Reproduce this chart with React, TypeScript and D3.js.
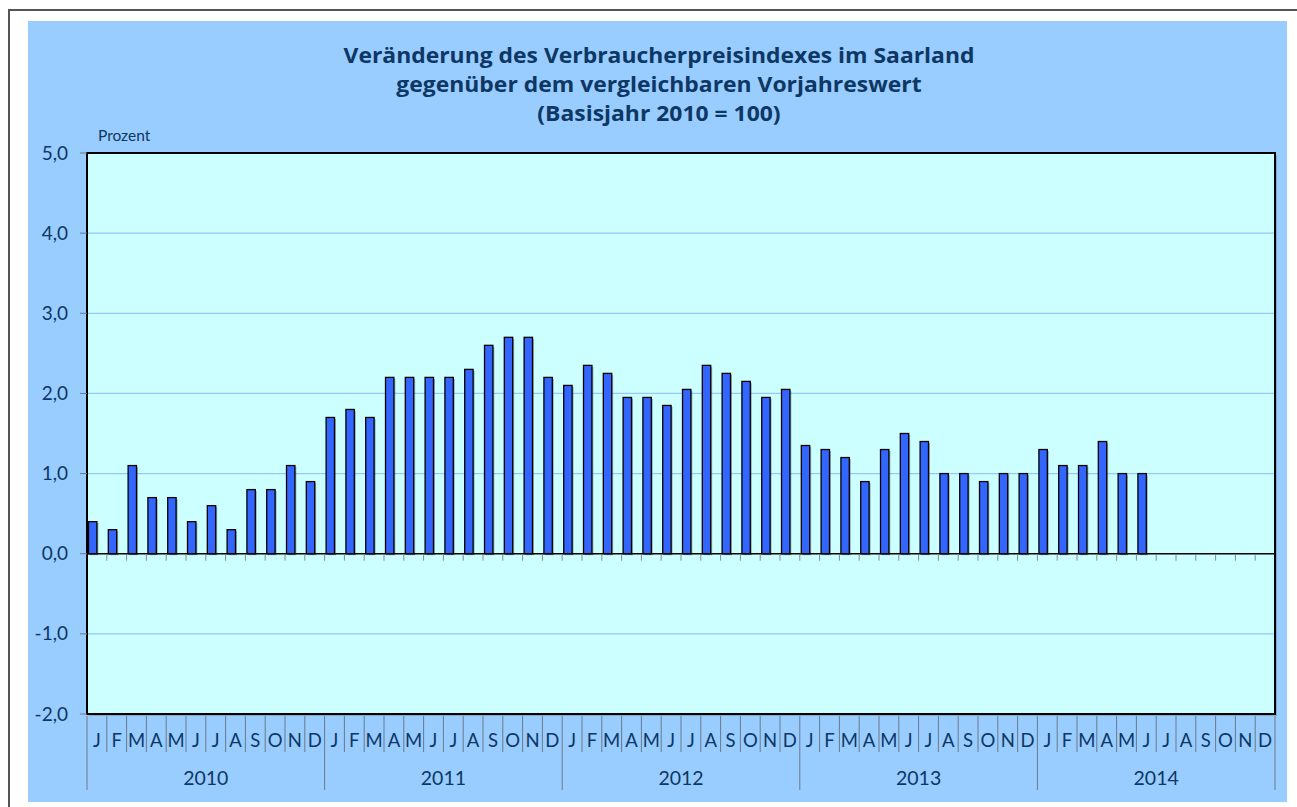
import React, { useRef, useEffect } from "react";
import * as d3 from "d3";

// Monatswerte (Veränderung gegenüber Vorjahresmonat in %)
const years = ["2010", "2011", "2012", "2013", "2014"];
const monthLetters = ["J", "F", "M", "A", "M", "J", "J", "A", "S", "O", "N", "D"];
const values2010 = [0.4, 0.3, 1.1, 0.7, 0.7, 0.4, 0.6, 0.3, 0.8, 0.8, 1.1, 0.9];
const values2011 = [1.7, 1.8, 1.7, 2.2, 2.2, 2.2, 2.2, 2.3, 2.6, 2.7, 2.7, 2.2];
const values2012 = [2.1, 2.35, 2.25, 1.95, 1.95, 1.85, 2.05, 2.35, 2.25, 2.15, 1.95, 2.05];
const values2013 = [1.35, 1.3, 1.2, 0.9, 1.3, 1.5, 1.4, 1.0, 1.0, 0.9, 1.0, 1.0];
const values2014 = [1.3, 1.1, 1.1, 1.4, 1.0, 1.0, null, null, null, null, null, null];
const yTicks = [-2, -1, 0, 1, 2, 3, 4, 5];
const titleLines = [
  "Veränderung des Verbraucherpreisindexes im Saarland",
  "gegenüber dem vergleichbaren Vorjahreswert",
  "(Basisjahr 2010 = 100)",
];

interface Point {
  idx: number;
  year: string;
  month: string;
  value: number | null;
}

const allValues = [values2010, values2011, values2012, values2013, values2014];

const App: React.FC = () => {
  const svgRef = useRef<SVGSVGElement>(null);

  useEffect(() => {
    if (!svgRef.current) return;
    const svg = d3.select(svgRef.current);
    svg.selectAll("*").remove();

    const width = 1297;
    const height = 807;
    const plot = { left: 87, right: 1275, top: 153, bottom: 714 };
    const font = "Lato, 'Open Sans', sans-serif";
    const textColor = "#0d3764";

    const data: Point[] = [];
    years.forEach((y, yi) =>
      monthLetters.forEach((m, mi) =>
        data.push({ idx: yi * 12 + mi, year: y, month: m, value: allValues[yi][mi] })
      )
    );

    svg.attr("width", width).attr("height", height);

    // outer frame
    svg
      .append("rect")
      .attr("x", 9)
      .attr("y", 10)
      .attr("width", 1300)
      .attr("height", 810)
      .attr("fill", "#ffffff")
      .attr("stroke", "#555555")
      .attr("stroke-width", 2);

    // chart background
    svg
      .append("rect")
      .attr("x", 28)
      .attr("y", 21)
      .attr("width", 1259)
      .attr("height", 781)
      .attr("fill", "#99ccff");

    // Title (slightly widened glyphs to match the original face)
    titleLines.forEach((t, i) => {
      const line = svg
        .append("text")
        .attr("x", 659)
        .attr("y", 63 + i * 29)
        .attr("text-anchor", "middle")
        .attr("font-family", "'Open Sans', Lato, sans-serif")
        .attr("font-weight", "bold")
        .attr("font-size", 21)
        .attr("fill", textColor)
        .text(t);
      const len = (line.node() as SVGTextElement).getComputedTextLength();
      if (len > 0) {
        line.attr("textLength", len * 1.09).attr("lengthAdjust", "spacingAndGlyphs");
      }
    });

    // Scales
    const x = d3
      .scaleBand<number>()
      .domain(data.map((d) => d.idx))
      .range([plot.left, plot.right])
      .padding(0);
    const sub = d3
      .scaleBand<string>()
      .domain(["wert", "leer"])
      .range([0, x.bandwidth()])
      .paddingInner(0)
      .paddingOuter(0.18);
    const y = d3.scaleLinear().domain([-2, 5]).range([plot.bottom, plot.top]);

    // plot shadow + background
    svg
      .append("rect")
      .attr("x", plot.left + 2)
      .attr("y", plot.top + 2)
      .attr("width", plot.right - plot.left)
      .attr("height", plot.bottom - plot.top)
      .attr("fill", "#7a8ea3")
      .attr("opacity", 0.6);
    svg
      .append("rect")
      .attr("x", plot.left)
      .attr("y", plot.top)
      .attr("width", plot.right - plot.left)
      .attr("height", plot.bottom - plot.top)
      .attr("fill", "#ccffff");

    // grid lines
    svg
      .append("g")
      .selectAll("line")
      .data(yTicks.filter((t) => t !== 0 && t !== 5 && t !== -2))
      .enter()
      .append("line")
      .attr("x1", plot.left)
      .attr("x2", plot.right)
      .attr("y1", (d) => y(d))
      .attr("y2", (d) => y(d))
      .attr("stroke", "#99c6ff")
      .attr("stroke-width", 1.2);

    // bars with shadow
    const bars = data.filter((d) => d.value !== null);
    const barX = (d: Point) => (x(d.idx) as number) + (sub("wert") as number);
    svg
      .append("g")
      .selectAll("rect")
      .data(bars)
      .enter()
      .append("rect")
      .attr("x", (d) => barX(d) + 1.5)
      .attr("y", (d) => y(d.value as number) + 1.5)
      .attr("width", sub.bandwidth())
      .attr("height", (d) => y(0) - y(d.value as number))
      .attr("fill", "#000000")
      .attr("opacity", 0.3);
    svg
      .append("g")
      .selectAll("rect")
      .data(bars)
      .enter()
      .append("rect")
      .attr("x", (d) => barX(d))
      .attr("y", (d) => y(d.value as number))
      .attr("width", sub.bandwidth())
      .attr("height", (d) => y(0) - y(d.value as number))
      .attr("fill", "#3366ff")
      .attr("stroke", "#000000")
      .attr("stroke-width", 1.3);

    // zero line + category ticks
    svg
      .append("line")
      .attr("x1", plot.left)
      .attr("x2", plot.right)
      .attr("y1", y(0))
      .attr("y2", y(0))
      .attr("stroke", "#000000")
      .attr("stroke-width", 1.5);
    svg
      .append("g")
      .selectAll("line")
      .data(data.slice(1))
      .enter()
      .append("line")
      .attr("x1", (d) => x(d.idx) as number)
      .attr("x2", (d) => x(d.idx) as number)
      .attr("y1", y(0) + 1)
      .attr("y2", y(0) + 7)
      .attr("stroke", "#7f8c99")
      .attr("stroke-width", 1);

    // plot border
    svg
      .append("rect")
      .attr("x", plot.left)
      .attr("y", plot.top)
      .attr("width", plot.right - plot.left)
      .attr("height", plot.bottom - plot.top)
      .attr("fill", "none")
      .attr("stroke", "#000000")
      .attr("stroke-width", 2);

    // y axis ticks + labels
    const yAxis = svg.append("g");
    yAxis
      .selectAll("line")
      .data(yTicks)
      .enter()
      .append("line")
      .attr("x1", plot.left - 7)
      .attr("x2", plot.left)
      .attr("y1", (d) => y(d))
      .attr("y2", (d) => y(d))
      .attr("stroke", "#6c7a89")
      .attr("stroke-width", 1);
    yAxis
      .selectAll("text")
      .data(yTicks)
      .enter()
      .append("text")
      .attr("x", 68)
      .attr("y", (d) => y(d) + 6.5)
      .attr("text-anchor", "end")
      .attr("font-family", font)
      .attr("font-size", 19)
      .attr("fill", textColor)
      .text((d) => d.toFixed(1).replace(".", ","));

    svg
      .append("text")
      .attr("x", 98)
      .attr("y", 140.5)
      .attr("font-family", font)
      .attr("font-size", 15.5)
      .attr("fill", textColor)
      .text("Prozent");

    // category axis below plot
    const catAxis = svg.append("g");
    catAxis
      .selectAll("line")
      .data(d3.range(data.length + 1))
      .enter()
      .append("line")
      .attr("x1", (i) => plot.left + i * x.step())
      .attr("x2", (i) => plot.left + i * x.step())
      .attr("y1", plot.bottom + 2)
      .attr("y2", (i) => (i % 12 === 0 ? 790 : 752))
      .attr("stroke", "#6c7a89")
      .attr("stroke-width", 1);
    catAxis
      .selectAll("text.month")
      .data(data)
      .enter()
      .append("text")
      .attr("class", "month")
      .attr("x", (d) => (x(d.idx) as number) + x.bandwidth() / 2)
      .attr("y", 747)
      .attr("text-anchor", "middle")
      .attr("font-family", font)
      .attr("font-size", 18.5)
      .attr("fill", textColor)
      .text((d) => d.month);
    catAxis
      .selectAll("text.year")
      .data(years)
      .enter()
      .append("text")
      .attr("class", "year")
      .attr("x", (_d, i) => plot.left + (i * 12 + 6) * x.step())
      .attr("y", 785)
      .attr("text-anchor", "middle")
      .attr("font-family", font)
      .attr("font-size", 19.5)
      .attr("fill", textColor)
      .text((d) => d);
  }, []);

  return (
    <svg
      ref={svgRef}
      style={{ position: "absolute", left: 0, top: 0, display: "block" }}
    ></svg>
  );
};

export default App;
